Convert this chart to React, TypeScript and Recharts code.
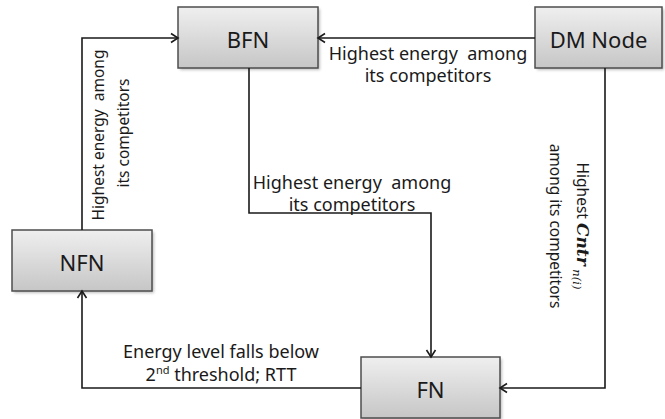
import React from 'react';
import { ComposedChart, XAxis, YAxis, Line, Scatter, ReferenceArea } from 'recharts';

const W = 665;
const H = 419;
const FONT = '"Noto Sans", "Open Sans", sans-serif';

// node boxes, in diagram units (same as page pixels)
const nodes = [
  { name: 'BFN', x1: 178, x2: 318, y1: 7, y2: 68 },
  { name: 'DM Node', x1: 535, x2: 662, y1: 7, y2: 68 },
  { name: 'NFN', x1: 12, x2: 152, y1: 230, y2: 291 },
  { name: 'FN', x1: 361, x2: 500, y1: 357, y2: 418 },
];

// connector paths, arrow at the last point
const nfnToBfn = [{ x: 82, y: 230 }, { x: 82, y: 38 }, { x: 178, y: 38 }];
const dmToBfn = [{ x: 535, y: 38 }, { x: 318, y: 38 }];
const bfnToFn = [{ x: 249, y: 68 }, { x: 249, y: 213 }, { x: 431, y: 213 }, { x: 431, y: 357 }];
const dmToFn = [{ x: 605, y: 68 }, { x: 605, y: 388 }, { x: 500, y: 388 }];
const fnToNfn = [{ x: 361, y: 388 }, { x: 82, y: 388 }, { x: 82, y: 291 }];
const edges = [nfnToBfn, dmToBfn, bfnToFn, dmToFn, fnToNfn];

// edge labels
const labels = [
  { x: 428, y: 53, text: 'Highest energy  among', rot: 0 },
  { x: 428, y: 75, text: 'its competitors', rot: 0 },
  { x: 352, y: 182, text: 'Highest energy  among', rot: 0 },
  { x: 352, y: 204, text: 'its competitors', rot: 0 },
  { x: 221, y: 351, text: 'Energy level falls below', rot: 0 },
  { x: 221, y: 374, text: 'threshold; RTT', rot: 0, sup: '2', supTxt: 'nd' },
  { x: 98, y: 135, text: 'Highest energy  among', rot: -90 },
  { x: 123, y: 133, text: 'its competitors', rot: -90 },
  { x: 583, y: 226, text: 'Highest ', rot: 90, cntr: true },
  { x: 556, y: 226, text: 'among its competitors', rot: 90 },
];

const arrowDot = (pts: { x: number; y: number }[]) => (props: any) => {
  const { cx, cy, index } = props;
  if (index !== pts.length - 1) return <g key={`d-${index}`} />;
  const p = pts[index - 1];
  const q = pts[index];
  const a = Math.atan2(q.y - p.y, q.x - p.x);
  const L = 7;
  const w = 4.5;
  const bx = cx - L * Math.cos(a);
  const by = cy - L * Math.sin(a);
  const d = `M${bx - w * Math.sin(a)},${by + w * Math.cos(a)} L${cx},${cy} L${bx + w * Math.sin(a)},${by - w * Math.cos(a)}`;
  return <path key={`d-${index}`} d={d} fill="none" stroke="#1a1a1a" strokeWidth={1.6} />;
};

const BoxShape = (name: string, i: number) => (props: any) => {
  const { x, y, width, height } = props;
  const gid = `grad-${i}`;
  const fid = `shadow-${i}`;
  return (
    <g>
      <defs>
        <linearGradient id={gid} x1="0" y1="0" x2="0" y2="1">
          <stop offset="0%" stopColor="#efefef" />
          <stop offset="100%" stopColor="#c6c6c6" />
        </linearGradient>
        <filter id={fid} x="-10%" y="-10%" width="130%" height="140%">
          <feGaussianBlur stdDeviation="1.5" />
        </filter>
      </defs>
      <rect x={x + 2} y={y + 2} width={width} height={height} fill="#000" opacity={0.25} filter={`url(#${fid})`} />
      <rect x={x} y={y} width={width} height={height} fill={`url(#${gid})`} stroke="#4d4d4d" strokeWidth={1.5} />
      <text
        x={x + width / 2}
        y={y + height / 2 + 1}
        textAnchor="middle"
        dominantBaseline="central"
        fontFamily={FONT}
        fontSize={22}
        fill="#1a1a1a"
      >
        {name}
      </text>
    </g>
  );
};

const LabelShape = (props: any) => {
  const { cx, cy, payload } = props;
  const vertical = payload.rot !== 0;
  const tf = vertical ? `rotate(${payload.rot} ${cx} ${cy})` : undefined;
  return (
    <text
      x={cx}
      y={cy}
      transform={tf}
      textAnchor="middle"
      dominantBaseline="central"
      fontFamily={FONT}
      fontSize={vertical ? 15.5 : 18}
      fill="#1a1a1a"
      style={{ whiteSpace: 'pre' }}
    >
      {payload.sup && (
        <>
          <tspan>{payload.sup}</tspan>
          <tspan fontSize={11} dy={-5}>{payload.supTxt}</tspan>
          <tspan dy={5}> </tspan>
        </>
      )}
      <tspan>{payload.text}</tspan>
      {payload.cntr && (
        <>
          <tspan fontFamily='"DejaVu Serif", serif' fontStyle="italic" fontWeight="bold" fontSize={17}>Cntr</tspan>
          <tspan fontFamily='"DejaVu Serif", serif' fontStyle="italic" fontSize={11.5} dy={6}> n(i)</tspan>
        </>
      )}
    </text>
  );
};

export default function App() {
  return (
    <div style={{ position: 'absolute', left: 0, top: 0, width: W, height: H, background: '#fff' }}>
      <ComposedChart width={W} height={H} margin={{ top: 0, right: 0, bottom: 0, left: 0 }}>
        <XAxis type="number" dataKey="x" domain={[0, W]} hide allowDataOverflow />
        <YAxis type="number" dataKey="y" domain={[0, H]} reversed hide allowDataOverflow />
        {edges.map((pts, i) => (
          <Line
            key={`e-${i}`}
            data={pts}
            dataKey="y"
            type="linear"
            stroke="#1a1a1a"
            strokeWidth={1.6}
            dot={arrowDot(pts)}
            activeDot={false}
            isAnimationActive={false}
          />
        ))}
        {nodes.map((n, i) => (
          <ReferenceArea
            key={n.name}
            x1={n.x1}
            x2={n.x2}
            y1={n.y1}
            y2={n.y2}
            ifOverflow="visible"
            shape={BoxShape(n.name, i)}
          />
        ))}
        <Scatter data={labels} dataKey="y" shape={LabelShape} isAnimationActive={false} />
      </ComposedChart>
    </div>
  );
}
